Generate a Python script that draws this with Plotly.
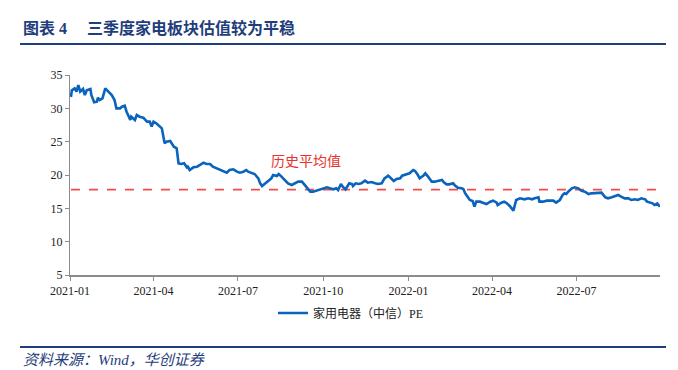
import plotly.graph_objects as go

dates = [
    "2021-01-02", "2021-01-03", "2021-01-06", "2021-01-08", "2021-01-10", "2021-01-12", "2021-01-15",
    "2021-01-17", "2021-01-19", "2021-01-23", "2021-01-24", "2021-01-27", "2021-01-30", "2021-01-31",
    "2021-02-02", "2021-02-05", "2021-02-08", "2021-02-11", "2021-02-15", "2021-02-18", "2021-02-20",
    "2021-02-24", "2021-02-26", "2021-03-01", "2021-03-03", "2021-03-07", "2021-03-08", "2021-03-12",
    "2021-03-14", "2021-03-17", "2021-03-21", "2021-03-25", "2021-03-28", "2021-03-30", "2021-04-01",
    "2021-04-04", "2021-04-08", "2021-04-10", "2021-04-13", "2021-04-15", "2021-04-19", "2021-04-21",
    "2021-04-23", "2021-04-26", "2021-04-28", "2021-05-01", "2021-05-04", "2021-05-07", "2021-05-08",
    "2021-05-10", "2021-05-14", "2021-05-18", "2021-05-21", "2021-05-25", "2021-05-28", "2021-06-01",
    "2021-06-04", "2021-06-08", "2021-06-12", "2021-06-15", "2021-06-19", "2021-06-22", "2021-06-26",
    "2021-06-30", "2021-07-03", "2021-07-07", "2021-07-10", "2021-07-12", "2021-07-16", "2021-07-19",
    "2021-07-23", "2021-07-25", "2021-07-27", "2021-07-30", "2021-08-03", "2021-08-06", "2021-08-08",
    "2021-08-12", "2021-08-14", "2021-08-17", "2021-08-21", "2021-08-24", "2021-08-28", "2021-08-31",
    "2021-09-04", "2021-09-08", "2021-09-11", "2021-09-14", "2021-09-17", "2021-09-20", "2021-09-24",
    "2021-09-27", "2021-10-01", "2021-10-05", "2021-10-08", "2021-10-12", "2021-10-15", "2021-10-17",
    "2021-10-20", "2021-10-22", "2021-10-25", "2021-10-27", "2021-10-29", "2021-11-01", "2021-11-02",
    "2021-11-05", "2021-11-08", "2021-11-11", "2021-11-15", "2021-11-18", "2021-11-22", "2021-11-26",
    "2021-11-29", "2021-12-03", "2021-12-06", "2021-12-10", "2021-12-14", "2021-12-16", "2021-12-19",
    "2021-12-23", "2021-12-25", "2021-12-30", "2022-01-02", "2022-01-06", "2022-01-08", "2022-01-11",
    "2022-01-13", "2022-01-17", "2022-01-19", "2022-01-22", "2022-01-26", "2022-01-29", "2022-02-02",
    "2022-02-06", "2022-02-08", "2022-02-11", "2022-02-14", "2022-02-18", "2022-02-20", "2022-02-23",
    "2022-02-27", "2022-03-01", "2022-03-03", "2022-03-06", "2022-03-08", "2022-03-11", "2022-03-13",
    "2022-03-15", "2022-03-19", "2022-03-22", "2022-03-26", "2022-03-30", "2022-04-02", "2022-04-06",
    "2022-04-07", "2022-04-11", "2022-04-14", "2022-04-17", "2022-04-20", "2022-04-24", "2022-04-26",
    "2022-04-27", "2022-05-01", "2022-05-06", "2022-05-10", "2022-05-14", "2022-05-17", "2022-05-21",
    "2022-05-22", "2022-05-26", "2022-05-30", "2022-06-02", "2022-06-06", "2022-06-09", "2022-06-13",
    "2022-06-16", "2022-06-18", "2022-06-20", "2022-06-22", "2022-06-26", "2022-06-29", "2022-07-03",
    "2022-07-06", "2022-07-10", "2022-07-14", "2022-07-17", "2022-07-21", "2022-07-24", "2022-07-28",
    "2022-08-01", "2022-08-04", "2022-08-08", "2022-08-11", "2022-08-15", "2022-08-18", "2022-08-22",
    "2022-08-26", "2022-08-29", "2022-09-02", "2022-09-05", "2022-09-09", "2022-09-13", "2022-09-15",
    "2022-09-18", "2022-09-21", "2022-09-23", "2022-09-26", "2022-09-29",
]

pe_values = [
    31.7, 32.7, 33.0, 32.5, 33.5, 32.5, 32.9,
    32.0, 32.7, 32.9, 32.0, 30.9, 31.0, 31.6,
    31.25, 31.5, 33.0, 32.5, 32.0, 31.25, 30.0,
    30.0, 30.25, 30.4, 29.5, 28.25, 28.75, 28.25,
    29.0, 28.75, 28.6, 28.0, 28.0, 27.25, 28.0,
    27.75, 27.25, 27.0, 24.75, 25.0, 25.1, 24.75,
    24.25, 24.0, 21.75, 21.65, 21.75, 21.15, 21.25,
    20.75, 21.15, 21.25, 21.5, 21.85, 21.65, 21.65,
    21.25, 21.0, 20.75, 20.5, 20.35, 20.75, 20.85,
    20.5, 20.35, 20.5, 20.75, 20.5, 20.25, 20.15,
    19.5, 18.75, 18.35, 18.75, 19.15, 19.5, 20.0,
    19.85, 20.15, 19.75, 19.25, 18.75, 18.5, 18.75,
    19.0, 19.0, 18.5, 17.85, 17.5, 17.5, 17.65,
    17.85, 18.0, 18.15, 18.0, 17.85, 18.0, 17.75,
    18.65, 18.25, 17.85, 18.35, 18.75, 18.65, 18.35,
    18.75, 18.65, 18.75, 19.15, 18.85, 18.95, 18.75,
    18.65, 18.75, 19.5, 19.9, 19.4, 19.1, 19.4,
    19.5, 19.9, 20.1, 20.25, 20.75, 20.6, 20.0,
    19.5, 19.9, 20.25, 19.75, 19.0, 19.0, 19.1,
    19.25, 18.9, 18.6, 18.6, 18.75, 18.4, 18.1,
    18.0, 17.9, 17.25, 16.6, 16.25, 16.1, 15.25,
    16.0, 16.0, 15.85, 15.65, 16.0, 16.15, 15.85,
    15.5, 15.85, 16.0, 15.75, 15.35, 14.65, 15.5,
    16.25, 16.5, 16.35, 16.5, 16.35, 16.5, 16.65,
    16.0, 16.0, 16.15, 16.15, 16.15, 15.85, 16.25,
    17.0, 17.25, 17.15, 17.5, 18.0, 18.15, 18.0,
    17.65, 17.5, 17.15, 17.25, 17.25, 17.35, 17.35,
    16.65, 16.5, 16.65, 16.85, 17.0, 16.75, 16.5,
    16.5, 16.25, 16.35, 16.25, 16.5, 16.35, 16.0,
    15.85, 15.75, 15.5, 15.75, 15.25,
]

hist_mean = 17.8
series_name = "家用电器（中信）PE"
mean_label = "历史平均值"
title_text = "图表 4　 三季度家电板块估值较为平稳"
source_text = "资料来源：Wind，华创证券"
tick_dates = ["2021-01-01", "2021-04-01", "2021-07-01", "2021-10-01", "2022-01-01", "2022-04-01", "2022-07-01"]
tick_labels = ["2021-01", "2021-04", "2021-07", "2021-10", "2022-01", "2022-04", "2022-07"]

# page offset: the browser body has an 8px margin
OX, OY = 8, 8
PAGE_W, PAGE_H = 678, 370
W, H = PAGE_W - OX, PAGE_H - OY
# plot area in page pixels
PL, PR, PT, PB = 70, 660, 75, 275
L, T = PL - OX, PT - OY
R, B = W - (PR - OX), H - (PB - OY)
pw, ph = PR - PL, PB - PT


def px(x):
    return (x - PL) / pw


def py(y):
    return (PB - y) / ph


navy = "#1F3E7C"
fig = go.Figure()

fig.add_trace(go.Scatter(
    x=[dates[0], dates[-1]], y=[hist_mean, hist_mean], mode="lines",
    line=dict(color="#F24B4B", width=1.6, dash="dash"), showlegend=False, hoverinfo="skip"))

fig.add_trace(go.Scatter(
    x=dates, y=pe_values, mode="lines", name=series_name,
    line=dict(color="#0A64BE", width=2.6)))

fig.update_layout(
    width=W, height=H,
    margin=dict(l=L, r=R, t=T, b=B, autoexpand=False),
    paper_bgcolor="white", plot_bgcolor="white",
    showlegend=True,
    legend=dict(orientation="h", x=px(351), xanchor="center", y=py(313), yanchor="middle",
                font=dict(family="Liberation Serif, Noto Sans CJK SC", size=12, color="#222"),
                itemwidth=30, bgcolor="rgba(0,0,0,0)"),
    xaxis=dict(type="date", range=["2021-01-01", "2022-09-29"],
               tickvals=tick_dates, ticktext=tick_labels,
               showgrid=False, zeroline=False,
               showline=True, linecolor="#8C8C8C", linewidth=2,
               ticks="outside", ticklen=4, tickcolor="#8C8C8C",
               tickfont=dict(family="Liberation Serif", size=12, color="#222")),
    yaxis=dict(range=[5, 35], dtick=5, showgrid=False, zeroline=False,
               showline=True, linecolor="#8C8C8C", linewidth=1,
               ticks="outside", ticklen=4, tickcolor="#8C8C8C",
               tickfont=dict(family="Liberation Serif", size=12, color="#222")),
)

fig.add_annotation(x="2021-09-12", y=22.3, text=mean_label, showarrow=False,
                   font=dict(family="Noto Sans CJK SC", size=14, color="#E8322E"))

fig.add_annotation(xref="paper", yref="paper", x=px(21), y=py(28), xanchor="left", yanchor="middle",
                   text="<b>" + title_text + "</b>", showarrow=False,
                   font=dict(family="Liberation Serif, Noto Sans CJK SC", size=16, color=navy))
fig.add_annotation(xref="paper", yref="paper", x=px(21), y=py(360), xanchor="left", yanchor="middle",
                   text="<i>" + source_text + "</i>", showarrow=False,
                   font=dict(family="Liberation Serif, Noto Sans CJK SC", size=15, color=navy))

fig.add_shape(type="line", xref="paper", yref="paper", x0=px(20), x1=px(666), y0=py(44), y1=py(44),
              line=dict(color=navy, width=2))
fig.add_shape(type="line", xref="paper", yref="paper", x0=px(20), x1=px(666), y0=py(347), y1=py(347),
              line=dict(color=navy, width=2))

fig.write_html("out.html")
